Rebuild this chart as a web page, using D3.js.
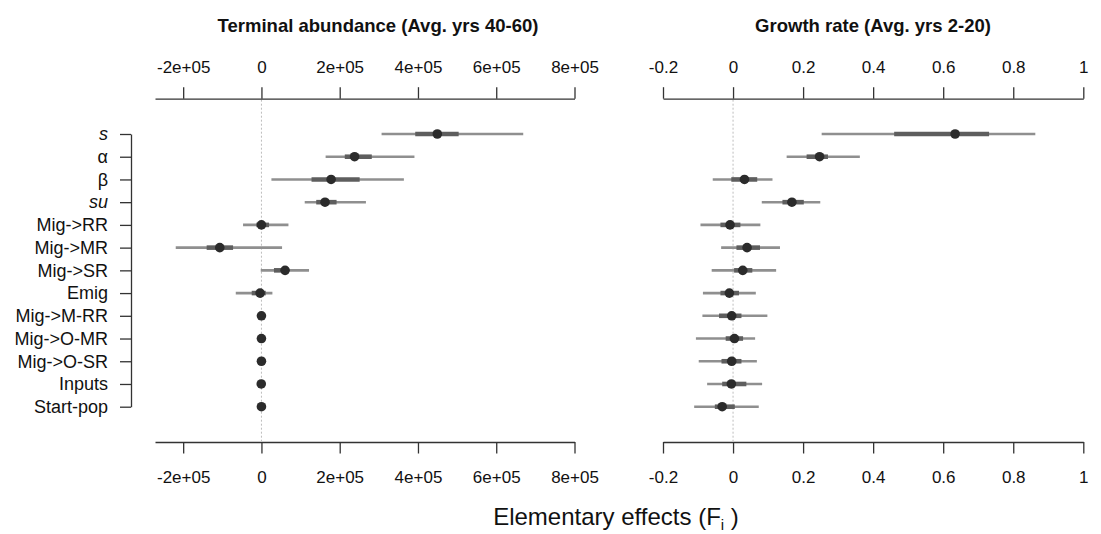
<!DOCTYPE html>
<html>
<head>
<meta charset="utf-8">
<script src="https://cdn.jsdelivr.net/npm/d3@7"></script>
<style>
  body { margin: 0; background: #fff; }
  text { font-family: "Liberation Sans", Arial, sans-serif; }
</style>
</head>
<body>
<div id="chart"></div>
<script>
// Parameters (top to bottom)
const params = ["s", "α", "β", "su", "Mig->RR", "Mig->MR", "Mig->SR", "Emig",
  "Mig->M-RR", "Mig->O-MR", "Mig->O-SR", "Inputs", "Start-pop"];
const italicParams = ["s", "su"];
const greekParams = ["α", "β"];

// Terminal abundance: [outer low, inner low, median, inner high, outer high]
const abundLo = [307000, 164000, 25500, 110600, -47000, -219000, -1800, -65600, -1500, -1500, -1500, -1500, -1500];
const abundQ1 = [393000, 213000, 128000, 140000, -12800, -140000, 32000, -24800, -500, -500, -500, -500, -500];
const abundMid = [449500, 238000, 178000, 162500, 0, -106500, 60400, -3400, 0, 0, 0, -500, 0];
const abundQ3 = [504000, 282000, 251000, 192000, 19400, -72500, 70500, 11000, 500, 500, 500, 500, 500];
const abundHi = [669000, 391000, 364000, 267000, 69000, 52700, 121600, 28000, 1500, 1500, 1500, 1500, 1500];

// Growth rate
const growthLo = [0.253, 0.153, -0.058, 0.082, -0.093, -0.034, -0.061, -0.086, -0.0875, -0.106, -0.098, -0.074, -0.111];
const growthQ1 = [0.460, 0.210, -0.005, 0.141, -0.036, 0.0097, 0.003, -0.036, -0.040, -0.021, -0.033, -0.031, -0.052];
const growthMid = [0.634, 0.247, 0.0326, 0.168, -0.0086, 0.040, 0.0277, -0.0105, -0.0038, 0.004, -0.0038, -0.0048, -0.031];
const growthQ3 = [0.731, 0.271, 0.069, 0.202, 0.021, 0.077, 0.055, 0.017, 0.024, 0.0286, 0.024, 0.038, 0.005];
const growthHi = [0.863, 0.362, 0.1126, 0.249, 0.078, 0.134, 0.123, 0.065, 0.098, 0.063, 0.068, 0.083, 0.0734];

const abundTicks = [-200000, 0, 200000, 400000, 600000, 800000];
const growthTicks = [-0.2, 0, 0.2, 0.4, 0.6, 0.8, 1];

const width = 1101;
const height = 534;
const axisTopY = 98.7;
const axisBottomY = 442;

function sciLabel(v) {
  if (v === 0) return "0";
  const [m, e] = d3.format(".0e")(v).replace("−", "-").split("e");
  return m + "e" + e[0] + e.slice(1).padStart(2, "0");
}
function decLabel(v) {
  return String(+v.toFixed(2));
}

const svg = d3.create("svg").attr("width", width).attr("height", height);

const y = d3.scalePoint().domain(params).range([134, 406.7]);

const panels = [
  { title: "Terminal abundance (Avg. yrs 40-60)", titleX: 378,
    x: d3.scaleLinear().domain([-272000, 800000]).range([155, 574.5]),
    ticks: abundTicks, fmt: sciLabel,
    lo: abundLo, q1: abundQ1, mid: abundMid, q3: abundQ3, hi: abundHi },
  { title: "Growth rate (Avg. yrs 2-20)", titleX: 873,
    x: d3.scaleLinear().domain([-0.2, 1]).range([663, 1083.3]),
    ticks: growthTicks, fmt: decLabel,
    lo: growthLo, q1: growthQ1, mid: growthMid, q3: growthQ3, hi: growthHi }
];

panels.forEach(p => {
  const g = svg.append("g");
  const x = p.x;

  // zero reference line
  g.append("line")
    .attr("x1", x(0)).attr("x2", x(0))
    .attr("y1", axisTopY + 1).attr("y2", axisBottomY - 1)
    .attr("stroke", "#bdbdbd").attr("stroke-width", 1)
    .attr("stroke-dasharray", "2,2");

  // axes
  const top = g.append("g").attr("transform", `translate(0,${axisTopY})`)
    .call(d3.axisTop(x).tickValues(p.ticks).tickFormat(p.fmt)
      .tickSize(11.5).tickSizeOuter(0).tickPadding(14));
  const bot = g.append("g").attr("transform", `translate(0,${axisBottomY})`)
    .call(d3.axisBottom(x).tickValues(p.ticks).tickFormat(p.fmt)
      .tickSize(11.5).tickSizeOuter(0).tickPadding(17));
  [top, bot].forEach(a => {
    a.selectAll("path, line").attr("stroke", "#333").attr("stroke-width", 1.3);
    a.selectAll("text").attr("font-size", 17).attr("fill", "#111")
      .attr("font-family", "Liberation Sans, Arial, sans-serif");
  });

  // title
  g.append("text")
    .attr("x", p.titleX).attr("y", 32)
    .attr("text-anchor", "middle")
    .attr("font-size", 18.5).attr("font-weight", "bold").attr("fill", "#111")
    .text(p.title);

  const rows = params.map((d, i) => ({ name: d, lo: p.lo[i], q1: p.q1[i], mid: p.mid[i], q3: p.q3[i], hi: p.hi[i] }));

  g.selectAll(".outer").data(rows).join("line")
    .attr("x1", d => x(d.lo)).attr("x2", d => x(d.hi))
    .attr("y1", d => y(d.name)).attr("y2", d => y(d.name))
    .attr("stroke", "#8f8f8f").attr("stroke-width", 2.6);

  g.selectAll(".inner").data(rows).join("line")
    .attr("x1", d => x(d.q1)).attr("x2", d => x(d.q3))
    .attr("y1", d => y(d.name)).attr("y2", d => y(d.name))
    .attr("stroke", "#5e5e5e").attr("stroke-width", 4.6);

  g.selectAll(".dot").data(rows).join("circle")
    .attr("cx", d => x(d.mid)).attr("cy", d => y(d.name))
    .attr("r", 4.8).attr("fill", "#2b2b2b");
});

// y axis (left)
const yAxisX = 131;
const yAxis = svg.append("g").attr("transform", `translate(${yAxisX},0)`)
  .call(d3.axisLeft(y).tickSize(11).tickSizeOuter(0).tickPadding(12));
yAxis.select("path").attr("stroke", "#333").attr("stroke-width", 1.3);
yAxis.selectAll("line").attr("stroke", "#333").attr("stroke-width", 1.3);
yAxis.selectAll("text")
  .attr("font-size", 18).attr("fill", "#111")
  .attr("font-style", d => italicParams.includes(d) ? "italic" : "normal")
  .attr("font-family", d => greekParams.includes(d) ? "Liberation Serif, Times New Roman, serif" : "Liberation Sans, Arial, sans-serif");

// x label
const xl = svg.append("text")
  .attr("x", 616).attr("y", 525)
  .attr("text-anchor", "middle")
  .attr("font-size", 24).attr("fill", "#111");
xl.append("tspan").text("Elementary effects (F");
xl.append("tspan").attr("font-size", 15).attr("dy", 5).text("i");
xl.append("tspan").attr("dy", -5).text(" )");

d3.select("#chart").node().appendChild(svg.node());
</script>
</body>
</html>
